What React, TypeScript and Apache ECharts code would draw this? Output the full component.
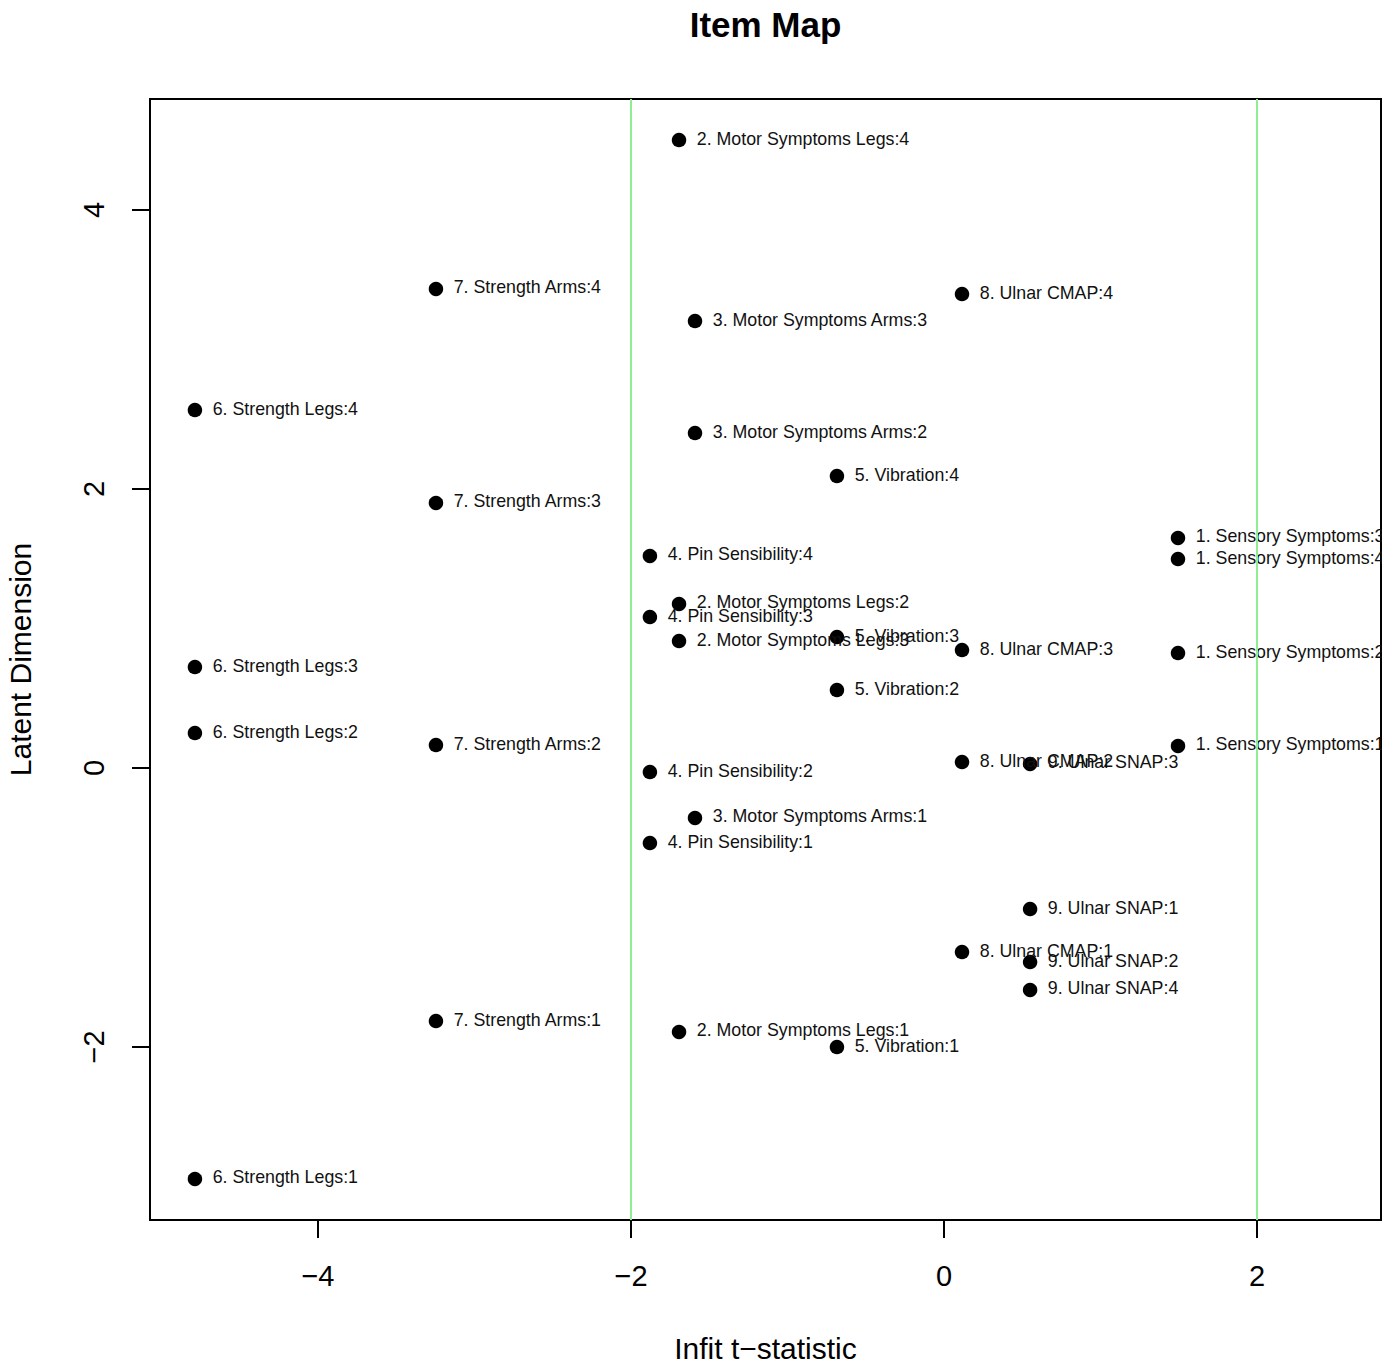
import React, { useEffect, useRef } from "react";
import * as echarts from "echarts";

// Item-category labels, infit t-statistic (x) and latent dimension location (y)
const itemLabels: string[] = [
  "1. Sensory Symptoms:1",
  "1. Sensory Symptoms:2",
  "1. Sensory Symptoms:3",
  "1. Sensory Symptoms:4",
  "2. Motor Symptoms Legs:1",
  "2. Motor Symptoms Legs:2",
  "2. Motor Symptoms Legs:3",
  "2. Motor Symptoms Legs:4",
  "3. Motor Symptoms Arms:1",
  "3. Motor Symptoms Arms:2",
  "3. Motor Symptoms Arms:3",
  "4. Pin Sensibility:1",
  "4. Pin Sensibility:2",
  "4. Pin Sensibility:3",
  "4. Pin Sensibility:4",
  "5. Vibration:1",
  "5. Vibration:2",
  "5. Vibration:3",
  "5. Vibration:4",
  "6. Strength Legs:1",
  "6. Strength Legs:2",
  "6. Strength Legs:3",
  "6. Strength Legs:4",
  "7. Strength Arms:1",
  "7. Strength Arms:2",
  "7. Strength Arms:3",
  "7. Strength Arms:4",
  "8. Ulnar CMAP:1",
  "8. Ulnar CMAP:2",
  "8. Ulnar CMAP:3",
  "8. Ulnar CMAP:4",
  "9. Ulnar SNAP:1",
  "9. Ulnar SNAP:2",
  "9. Ulnar SNAP:3",
  "9. Ulnar SNAP:4",
];

const infitT: number[] = [
  1.495, 1.495, 1.495, 1.495,
  -1.693, -1.693, -1.693, -1.693,
  -1.591, -1.591, -1.591,
  -1.879, -1.879, -1.879, -1.879,
  -0.684, -0.684, -0.684, -0.684,
  -4.786, -4.786, -4.786, -4.786,
  -3.246, -3.246, -3.246, -3.246,
  0.115, 0.115, 0.115, 0.115,
  0.55, 0.55, 0.55, 0.55,
];

const latent: number[] = [
  0.158, 0.824, 1.649, 1.498,
  -1.892, 1.176, 0.91, 4.502,
  -0.358, 2.401, 3.204,
  -0.538, -0.029, 1.082, 1.52,
  -2.0, 0.559, 0.939, 2.093,
  -2.946, 0.251, 0.724, 2.566,
  -1.814, 0.165, 1.9, 3.434,
  -1.319, 0.043, 0.846, 3.398,
  -1.011, -1.391, 0.029, -1.591,
];

const xTicks: number[] = [-4, -2, 0, 2];
const yTicks: number[] = [-2, 0, 2, 4];
const cutoffs: number[] = [-2, 2];

const X_MIN = -5.073;
const X_MAX = 2.792;
const Y_MIN = -3.24;
const Y_MAX = 4.796;

export default function App() {
  const ref = useRef<HTMLDivElement>(null);

  useEffect(() => {
    if (!ref.current) return;
    const chart = echarts.init(ref.current, null, { renderer: "svg" });
    const font = "'Liberation Sans', Arial, Helvetica, sans-serif";
    const fmt = (v: number) => String(v).replace("-", "\u2212");

    const data = itemLabels.map((name, i) => ({
      name,
      value: [infitT[i], latent[i]],
    }));

    chart.setOption({
      animation: false,
      backgroundColor: "#ffffff",
      title: {
        text: "Item Map",
        left: 765.5,
        textAlign: "center",
        top: 7,
        padding: 0,
        textStyle: {
          fontFamily: font,
          fontSize: 35,
          fontWeight: "bold",
          color: "#000",
        },
      },
      grid: {
        left: 150,
        right: 15,
        top: 99,
        bottom: 143,
        containLabel: false,
        outerBoundsMode: "none",
        show: true,
        borderColor: "#000",
        borderWidth: 2,
        backgroundColor: "transparent",
      },
      xAxis: {
        type: "value",
        min: X_MIN,
        max: X_MAX,
        splitLine: { show: false },
        axisLine: { show: false, onZero: false },
        axisTick: {
          show: true,
          customValues: xTicks,
          length: 18,
          lineStyle: { color: "#000", width: 2 },
        },
        axisLabel: {
          customValues: xTicks,
          formatter: fmt,
          margin: 41,
          fontSize: 29,
          color: "#000",
          fontFamily: font,
        },
        name: "Infit t\u2212statistic",
        nameLocation: "middle",
        nameGap: 113,
        nameTextStyle: { fontSize: 30, color: "#000", fontFamily: font },
      },
      yAxis: {
        type: "value",
        min: Y_MIN,
        max: Y_MAX,
        splitLine: { show: false },
        axisLine: { show: false, onZero: false },
        axisTick: {
          show: true,
          customValues: yTicks,
          length: 18,
          lineStyle: { color: "#000", width: 2 },
        },
        axisLabel: {
          customValues: yTicks,
          formatter: fmt,
          rotate: 90,
          margin: 42,
          fontSize: 29,
          color: "#000",
          fontFamily: font,
        },
        name: "Latent Dimension",
        nameLocation: "middle",
        nameGap: 115,
        nameTextStyle: { fontSize: 30, color: "#000", fontFamily: font },
      },
      series: [
        {
          type: "scatter",
          data,
          symbol: "circle",
          symbolSize: 14.5,
          itemStyle: { color: "#000", opacity: 1 },
          label: {
            show: true,
            position: "right",
            distance: 10.5,
            offset: [0, -1.5],
            formatter: "{b}",
            fontSize: 17.8,
            color: "#111",
            fontFamily: font,
          },
          markLine: {
            silent: true,
            symbol: ["none", "none"],
            label: { show: false },
            lineStyle: { color: "#90EE90", width: 2, type: "solid", opacity: 1 },
            data: cutoffs.map((v) => ({ xAxis: v })),
          },
        },
      ],
      graphic: [
        {
          type: "rect",
          z: 100,
          shape: { x: 1382, y: 90, width: 14, height: 1140 },
          style: { fill: "#ffffff" },
        },
      ],
    });

    return () => chart.dispose();
  }, []);

  return (
    <div
      ref={ref}
      style={{ position: "absolute", left: 0, top: 0, width: 1396, height: 1363 }}
    />
  );
}
